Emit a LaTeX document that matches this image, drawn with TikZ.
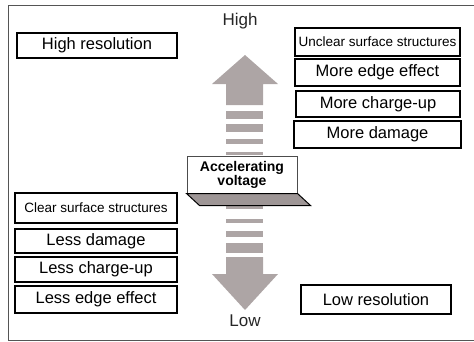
\documentclass[tikz,border=0pt]{standalone}
\usepackage{fontspec}
\setmainfont{Liberation Sans}
\usepackage{tikz}
\usepackage{xcolor}
\usetikzlibrary{calc}
\definecolor{shaft}{HTML}{ADA5A5}
\definecolor{shaftdark}{HTML}{9E9696}
\definecolor{framegray}{HTML}{555555}
\tikzstyle{prop} = [rectangle, minimum width=162pt, minimum height=25pt, inner sep=0pt,
                    text centered, draw=black, fill=white, line width=1.5pt,
                    font=\fontsize{16.5}{18}\selectfont]
\tikzstyle{propsmall} = [prop, font=\fontsize{13.5}{15}\selectfont]
\tikzstyle{level} = [font=\fontsize{17}{19}\selectfont, text=black!85]

\begin{document}
\begin{tikzpicture}[x=1pt, y=-1pt]
    \useasboundingbox (0,0) rectangle (474,341);
    \draw[framegray, line width=1pt] (474,5) -- (8,5) -- (8,340) -- (474,340);

    % the voltage arrow
    \fill[shaft] (245,55) -- (278,84) -- (263,84) -- (263,105) -- (226,105)
        -- (226,84) -- (212,84) -- cycle;
    \foreach \ya/\yb in {111/119, 124/132, 139/144, 152/155, 206/209, 219/223, 231/237, 243/253}
        \fill[shaft] (226,\ya) rectangle (263,\yb);
    \fill[shaft] (226,257) -- (263,257) -- (263,274) -- (278,274) -- (245,310)
        -- (212,274) -- (226,274) -- cycle;
    \node[level] (high) at (240,21) {High};
    \node[level] (low) at (245,321) {Low};

    \node[draw=black!70, fill=white, line width=1pt, minimum width=110pt, minimum height=37pt,
          inner sep=0pt, align=center, font=\fontsize{14}{14}\selectfont\bfseries]
          (volt) at (242,174.5) {Accelerating\\voltage};
    \draw[fill=shaftdark, line width=1pt] (volt.south west) -- (volt.south east) -- ++(13,12)
        -- ($(volt.south west)+(13,12)$) -- cycle;

    % high voltage side
    \node[prop, minimum width=160pt] (hires) at (97,45.5) {High resolution};
    \node[propsmall, minimum width=165pt, minimum height=28pt] (unclear) at (377.5,42) {Unclear surface structures};
    \node[prop, minimum width=165pt, minimum height=27pt] (moreedge) at (377.5,72.5) {More edge effect};
    \node[prop, minimum width=164pt, minimum height=26pt] (morecharge) at (378,104) {More charge-up};
    \node[prop, minimum width=167pt, minimum height=27pt] (moredamage) at (377.5,134.5) {More damage};

    % low voltage side
    \node[propsmall, minimum height=30pt] (clear) at (96,208) {Clear surface structures};
    \node[prop, minimum height=24pt] (lessdamage) at (96,241) {Less damage};
    \node[prop] (lesscharge) at (96,269.5) {Less charge-up};
    \node[prop, minimum height=27pt] (lessedge) at (96,299.5) {Less edge effect};
    \node[prop, minimum width=150pt, minimum height=29pt] (lowres) at (376,299.5) {Low resolution};
\end{tikzpicture}
\end{document}
